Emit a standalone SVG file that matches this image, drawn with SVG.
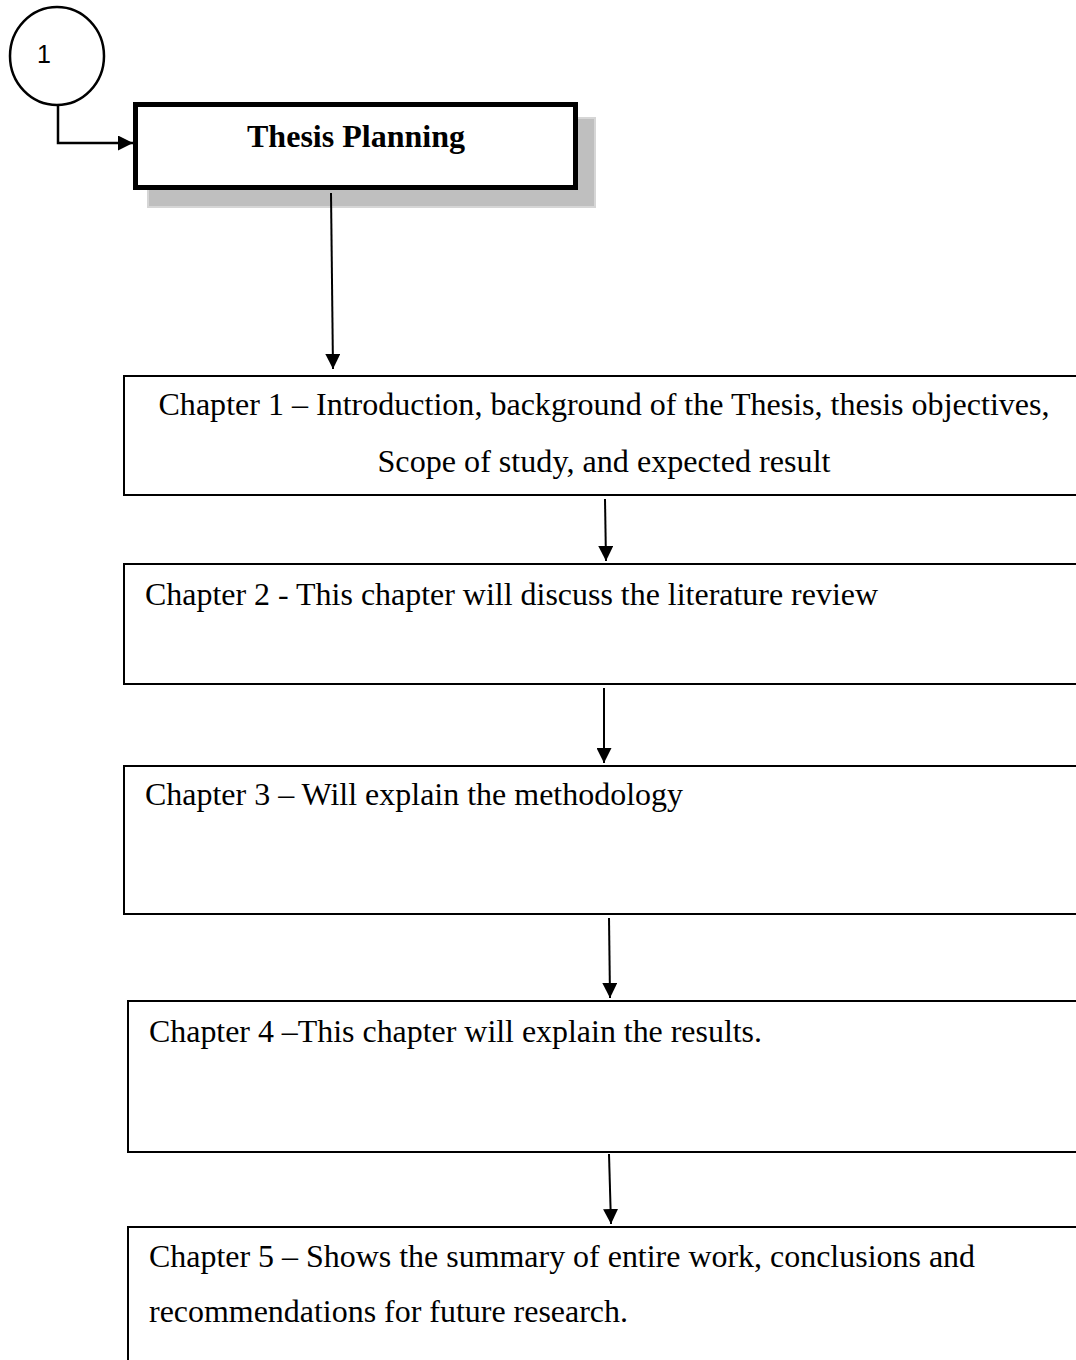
<svg xmlns="http://www.w3.org/2000/svg" width="1076" height="1360" viewBox="0 0 1076 1360">
<style>
.box{fill:#fff;stroke:#000;stroke-width:2}
.t{font-family:"Liberation Serif","Times New Roman",serif;font-size:32px;fill:#000}
.c{stroke:#000;stroke-width:2;fill:none}
</style>
<defs>
<marker id="ah" markerWidth="15" markerHeight="15" refX="15" refY="7.5" orient="auto" markerUnits="userSpaceOnUse">
<path d="M0,0 L15,7.5 L0,15 Z" fill="#000"/>
</marker>
</defs>
<rect width="1076" height="1360" fill="#fff"/>
<g id="start">
<ellipse cx="57" cy="56" rx="47" ry="49" fill="#fff" stroke="#000" stroke-width="2.5"/>
<text x="37" y="63" style="font-family:'Liberation Sans',Arial,sans-serif;font-size:25px">1</text>
</g>
<g id="thesis-planning">
<rect x="148" y="118" width="447" height="89" fill="#bfbfbf" stroke="#d6d6d6" stroke-width="2"/>
<rect x="135.5" y="104.5" width="440" height="83" fill="#fff" stroke="#000" stroke-width="5"/>
<text class="t" x="356" y="147" text-anchor="middle" font-weight="bold" textLength="218" lengthAdjust="spacingAndGlyphs">Thesis Planning</text>
</g>
<g id="chapter1">
<rect class="box" x="124" y="376" width="1000" height="119"/>
<text class="t" x="604" y="415" text-anchor="middle" textLength="891" lengthAdjust="spacingAndGlyphs">Chapter 1 – Introduction, background of the Thesis, thesis objectives,</text>
<text class="t" x="604" y="472" text-anchor="middle" textLength="453" lengthAdjust="spacingAndGlyphs">Scope of study, and expected result</text>
</g>
<g id="chapter2">
<rect class="box" x="124" y="564" width="1000" height="120"/>
<text class="t" x="145" y="605" textLength="733" lengthAdjust="spacingAndGlyphs">Chapter 2 - This chapter will discuss the literature review</text>
</g>
<g id="chapter3">
<rect class="box" x="124" y="766" width="1000" height="148"/>
<text class="t" x="145" y="805" textLength="538" lengthAdjust="spacingAndGlyphs">Chapter 3 – Will explain the methodology</text>
</g>
<g id="chapter4">
<rect class="box" x="128" y="1001" width="1000" height="151"/>
<text class="t" x="149" y="1042" textLength="613" lengthAdjust="spacingAndGlyphs">Chapter 4 –This chapter will explain the results.</text>
</g>
<g id="chapter5">
<rect class="box" x="128" y="1227" width="1000" height="200"/>
<text class="t" x="149" y="1267" textLength="826" lengthAdjust="spacingAndGlyphs">Chapter 5 – Shows the summary of entire work, conclusions and</text>
<text class="t" x="149" y="1322" textLength="479" lengthAdjust="spacingAndGlyphs">recommendations for future research.</text>
</g>
<g id="connectors">
<path class="c" style="stroke-width:2.5" d="M58,105 L58,143 L133,143" marker-end="url(#ah)"/>
<path class="c" d="M331,193 L333,369" marker-end="url(#ah)"/>
<path class="c" d="M605,499 L606,561" marker-end="url(#ah)"/>
<path class="c" d="M604,688 L604,763" marker-end="url(#ah)"/>
<path class="c" d="M609,918 L610,998" marker-end="url(#ah)"/>
<path class="c" d="M609,1154 L611,1224" marker-end="url(#ah)"/>
</g>
</svg>
